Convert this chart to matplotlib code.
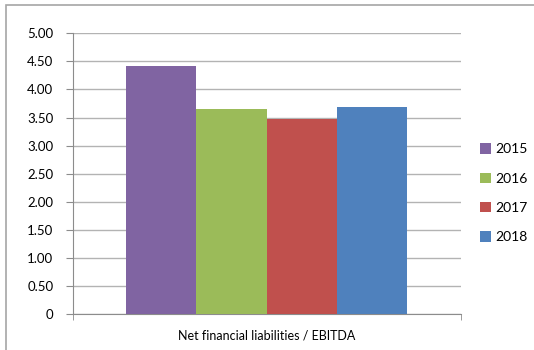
import matplotlib
matplotlib.use("Agg")
import matplotlib.pyplot as plt
from matplotlib.patches import Rectangle

# Chart data
category = "Net financial liabilities / EBITDA"
years = ["2015", "2016", "2017", "2018"]
values = [4.42, 3.65, 3.47, 3.68]
colors = ["#8064a2", "#9bbb59", "#c0504d", "#4f81bd"]
y_ticks = [0, 0.5, 1.0, 1.5, 2.0, 2.5, 3.0, 3.5, 4.0, 4.5, 5.0]

plt.rcParams["font.family"] = ["Lato", "DejaVu Sans"]

fig = plt.figure(figsize=(5.34, 3.5), dpi=100)

# outer chart frame (runs off the right and bottom edges)
fig.patches.append(Rectangle((6 / 534, -0.05), 1.2, 1 - 4.5 / 350 + 0.05,
                             transform=fig.transFigure, fill=False,
                             edgecolor="#a6a6a6", linewidth=1.2))

ax = fig.add_axes([72.7 / 534, 1 - 314 / 350, (460.5 - 72.7) / 534, (314 - 33.3) / 350])

# -----------------------------
# Bars
# -----------------------------
width = 0.1815
offsets = [(i - 1.5) * width for i in range(len(years))]
for off, v, c, yr in zip(offsets, values, colors, years):
    ax.bar(off, v, width=width, color=c, label=yr, zorder=3)

ax.set_xlim(-0.5, 0.5)
ax.set_ylim(0, 5)
ax.set_yticks(y_ticks)
ax.set_yticklabels(["0"] + ["%.2f" % t for t in y_ticks[1:]])
ax.set_xticks([0])
ax.set_xticklabels([category])
ax.set_xticks([-0.5, 0.5], minor=True)

ax.grid(axis="y", color="#b3b3b3", linewidth=1.0, zorder=0)

for side in ["top", "right"]:
    ax.spines[side].set_visible(False)
ax.spines["left"].set_color("#8c8c8c")
ax.spines["bottom"].set_color("#8c8c8c")

ax.tick_params(axis="y", length=5, color="#8c8c8c", labelsize=9.5, pad=9)
ax.tick_params(axis="x", which="major", length=0, labelsize=9.0, pad=11)
ax.tick_params(axis="x", which="minor", length=4, color="#8c8c8c", direction="out")

# -----------------------------
# Legend
# -----------------------------
ax.legend(loc="center left", bbox_to_anchor=(1.005, 0.43), frameon=False,
          fontsize=10, handlelength=0.75, handleheight=0.75,
          handletextpad=0.35, labelspacing=1.25, borderaxespad=0.9)

plt.savefig("out.png", dpi=100)
